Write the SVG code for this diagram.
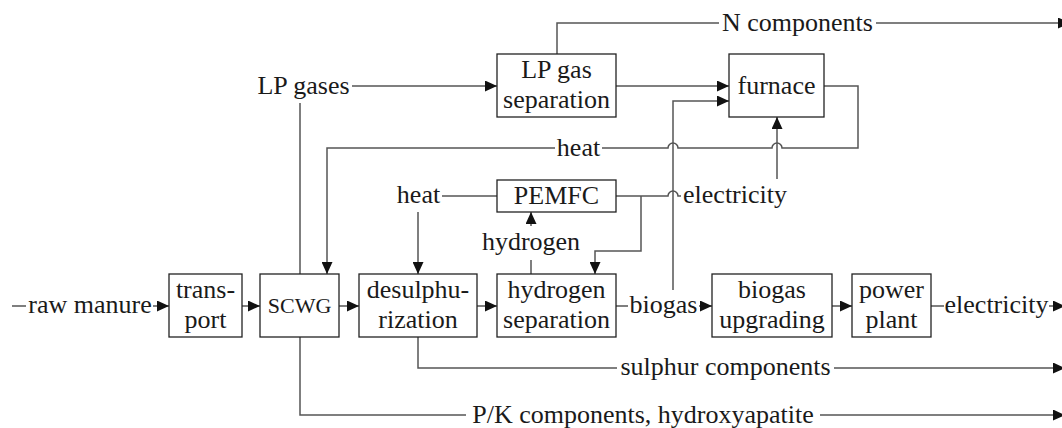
<svg xmlns="http://www.w3.org/2000/svg" width="1062" height="428" viewBox="0 0 1062 428">
<style>
.box{fill:#fff;stroke:#222;stroke-width:1.3}
.ln{fill:none;stroke:#555;stroke-width:1.5}
</style>
<defs>
<marker id="ah" markerUnits="userSpaceOnUse" markerWidth="12" markerHeight="11" refX="12" refY="5.5" orient="auto">
<path d="M0,0 L12,5.5 L0,11 z" fill="#111"/>
</marker>
</defs>
<rect width="1062" height="428" fill="#fff"/>
<g id="connectors">
<path class="ln" d="M12,306 H26"/>
<path class="ln" d="M153,306 H169" marker-end="url(#ah)"/>
<path class="ln" d="M242,306 H260" marker-end="url(#ah)"/>
<path class="ln" d="M339,306 H359" marker-end="url(#ah)"/>
<path class="ln" d="M477,306 H497" marker-end="url(#ah)"/>
<path class="ln" d="M616,306 H628"/>
<path class="ln" d="M699,306 H712" marker-end="url(#ah)"/>
<path class="ln" d="M832,306 H852" marker-end="url(#ah)"/>
<path class="ln" d="M931,306 H944"/>
<path class="ln" d="M1049,306 H1065" marker-end="url(#ah)"/>
<path class="ln" d="M300,274 V103"/>
<path class="ln" d="M352,86 H497" marker-end="url(#ah)"/>
<path class="ln" d="M557,54 V23 H719"/>
<path class="ln" d="M876,23 H1070" marker-end="url(#ah)"/>
<path class="ln" d="M616,86 H729" marker-end="url(#ah)"/>
<path class="ln" d="M673,290 V101 H729" marker-end="url(#ah)"/>
<path class="ln" d="M824,86 H858 V148 H782 A5,5 0 0 0 772,148 H678 A5,5 0 0 0 668,148 H602"/>
<path class="ln" d="M555,148 H327 V274" marker-end="url(#ah)"/>
<path class="ln" d="M777,179 V117" marker-end="url(#ah)"/>
<path class="ln" d="M616,196 H668 A5,5 0 0 1 678,196 H681"/>
<path class="ln" d="M641,196 V251 H595 V274" marker-end="url(#ah)"/>
<path class="ln" d="M442,196 H497"/>
<path class="ln" d="M418,212 V274" marker-end="url(#ah)"/>
<path class="ln" d="M531,274 V260"/>
<path class="ln" d="M531,226 V212" marker-end="url(#ah)"/>
<path class="ln" d="M418,337 V368 H617"/>
<path class="ln" d="M834,368 H1065" marker-end="url(#ah)"/>
<path class="ln" d="M300,337 V415 H466"/>
<path class="ln" d="M820,415 H1065" marker-end="url(#ah)"/>
</g>
<g id="labels" font-family="Times New Roman, Liberation Serif, serif" font-size="26" text-anchor="middle" fill="#1a1a1a">
<text x="90" y="313">raw manure</text>
<text x="303.5" y="94">LP gases</text>
<text x="797.5" y="31">N components</text>
<text x="578.5" y="156">heat</text>
<text x="418.5" y="203">heat</text>
<text x="735" y="203">electricity</text>
<text x="531" y="250">hydrogen</text>
<text x="663.5" y="313">biogas</text>
<text x="996.5" y="313">electricity</text>
<text x="725.5" y="375">sulphur components</text>
<text x="643" y="423">P/K components, hydroxyapatite</text>
</g>
<g id="transport" font-family="Times New Roman, Liberation Serif, serif" font-size="26" text-anchor="middle" fill="#1a1a1a">
<rect class="box" x="169" y="274" width="73" height="63"/>
<text x="205.5" y="298">trans-</text>
<text x="205.5" y="328">port</text>
</g>
<g id="scwg" font-family="Times New Roman, Liberation Serif, serif" font-size="22" text-anchor="middle" fill="#1a1a1a">
<rect class="box" x="260" y="274" width="79" height="63"/>
<text x="299.5" y="313">SCWG</text>
</g>
<g id="desulphurization" font-family="Times New Roman, Liberation Serif, serif" font-size="26" text-anchor="middle" fill="#1a1a1a">
<rect class="box" x="359" y="274" width="118" height="63"/>
<text x="418" y="298">desulphu-</text>
<text x="418" y="328">rization</text>
</g>
<g id="hydrogen-separation" font-family="Times New Roman, Liberation Serif, serif" font-size="26" text-anchor="middle" fill="#1a1a1a">
<rect class="box" x="497" y="274" width="119" height="63"/>
<text x="556.5" y="298">hydrogen</text>
<text x="556.5" y="328">separation</text>
</g>
<g id="biogas-upgrading" font-family="Times New Roman, Liberation Serif, serif" font-size="26" text-anchor="middle" fill="#1a1a1a">
<rect class="box" x="712" y="274" width="120" height="63"/>
<text x="772" y="298">biogas</text>
<text x="772" y="328">upgrading</text>
</g>
<g id="power-plant" font-family="Times New Roman, Liberation Serif, serif" font-size="26" text-anchor="middle" fill="#1a1a1a">
<rect class="box" x="852" y="274" width="79" height="63"/>
<text x="891.5" y="298">power</text>
<text x="891.5" y="328">plant</text>
</g>
<g id="lp-gas-separation" font-family="Times New Roman, Liberation Serif, serif" font-size="26" text-anchor="middle" fill="#1a1a1a">
<rect class="box" x="497" y="54" width="119" height="63"/>
<text x="556.5" y="78">LP gas</text>
<text x="556.5" y="108">separation</text>
</g>
<g id="furnace" font-family="Times New Roman, Liberation Serif, serif" font-size="26" text-anchor="middle" fill="#1a1a1a">
<rect class="box" x="729" y="54" width="95" height="63"/>
<text x="776.5" y="94">furnace</text>
</g>
<g id="pemfc" font-family="Times New Roman, Liberation Serif, serif" font-size="26" text-anchor="middle" fill="#1a1a1a">
<rect class="box" x="497" y="180" width="119" height="32"/>
<text x="556.5" y="204">PEMFC</text>
</g>
</svg>
